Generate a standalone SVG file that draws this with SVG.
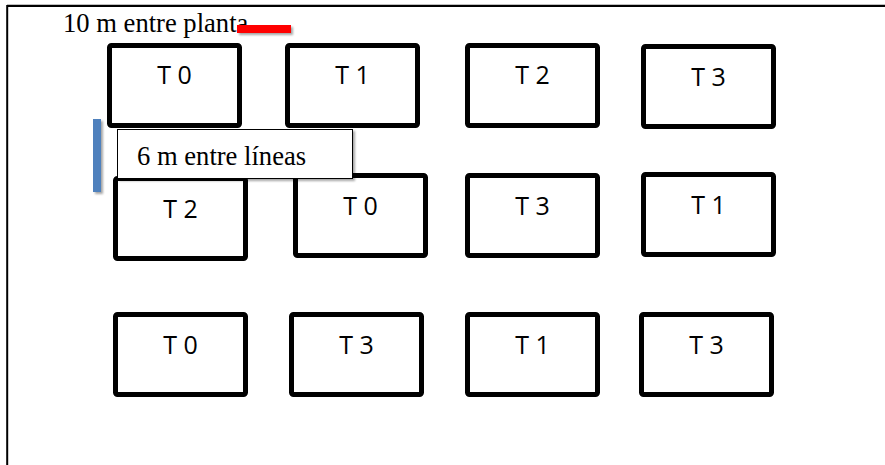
<svg xmlns="http://www.w3.org/2000/svg" width="885" height="465" viewBox="0 0 885 465">
<defs>
<filter id="sh" x="-20%" y="-20%" width="160%" height="160%">
<feDropShadow dx="2" dy="2" stdDeviation="1.2" flood-color="#000" flood-opacity="0.35"/>
</filter>
<style>
.plot rect{fill:#fff;stroke:#000;stroke-width:5;}
.plot text{font-family:"Open Sans","Liberation Sans",sans-serif;font-size:25px;fill:#000;text-anchor:middle;}
.serif{font-family:"Liberation Serif","Times New Roman",serif;font-size:26.6px;fill:#000;}
</style>
</defs>
<rect width="885" height="465" fill="#fff"/>
<g id="frame">
<line x1="7" y1="5.8" x2="885" y2="5.8" stroke="#000" stroke-width="2.2"/>
<line x1="7.2" y1="5" x2="7.2" y2="465" stroke="#000" stroke-width="2"/>
</g>
<g id="r1c1" class="plot"><rect x="109.5" y="45.5" width="130" height="80" rx="2"/><text x="174.5" y="84">T 0</text></g>
<g id="r1c2" class="plot"><rect x="287.5" y="45.5" width="130" height="80" rx="2"/><text x="352.5" y="84">T 1</text></g>
<g id="r1c3" class="plot"><rect x="467.5" y="45.5" width="130" height="80" rx="2"/><text x="532.5" y="84">T 2</text></g>
<g id="r1c4" class="plot"><rect x="643.5" y="46.5" width="130" height="80" rx="2"/><text x="708.5" y="86">T 3</text></g>
<g id="r2c1" class="plot"><rect x="115.5" y="178.5" width="130" height="80" rx="2"/><text x="180.5" y="218">T 2</text></g>
<g id="r2c2" class="plot"><rect x="295.5" y="175.5" width="130" height="80" rx="2"/><text x="360.5" y="215">T 0</text></g>
<g id="r2c3" class="plot"><rect x="467.5" y="175.5" width="130" height="80" rx="2"/><text x="532.5" y="215">T 3</text></g>
<g id="r2c4" class="plot"><rect x="643.5" y="174.5" width="130" height="80" rx="2"/><text x="708.5" y="214">T 1</text></g>
<g id="r3c1" class="plot"><rect x="115.5" y="314.5" width="130" height="80" rx="2"/><text x="180.5" y="354">T 0</text></g>
<g id="r3c2" class="plot"><rect x="291.5" y="314.5" width="130" height="80" rx="2"/><text x="356.5" y="354">T 3</text></g>
<g id="r3c3" class="plot"><rect x="467.5" y="314.5" width="130" height="80" rx="2"/><text x="532.5" y="354">T 1</text></g>
<g id="r3c4" class="plot"><rect x="641.5" y="314.5" width="130" height="80" rx="2"/><text x="706.5" y="354">T 3</text></g>
<g id="label-plantas">
<text class="serif" x="63" y="32">10 m entre planta</text>
<rect x="237" y="25" width="54" height="8" fill="#ff0000" filter="url(#sh)"/>
</g>
<g id="label-lineas">
<rect x="93" y="119" width="8" height="73" fill="#4f81bd" filter="url(#sh)"/>
<rect x="117.5" y="129.5" width="235" height="49" fill="#fff" stroke="#000" stroke-width="1" filter="url(#sh)"/>
<text class="serif" x="137" y="165">6 m entre líneas</text>
</g>
</svg>
